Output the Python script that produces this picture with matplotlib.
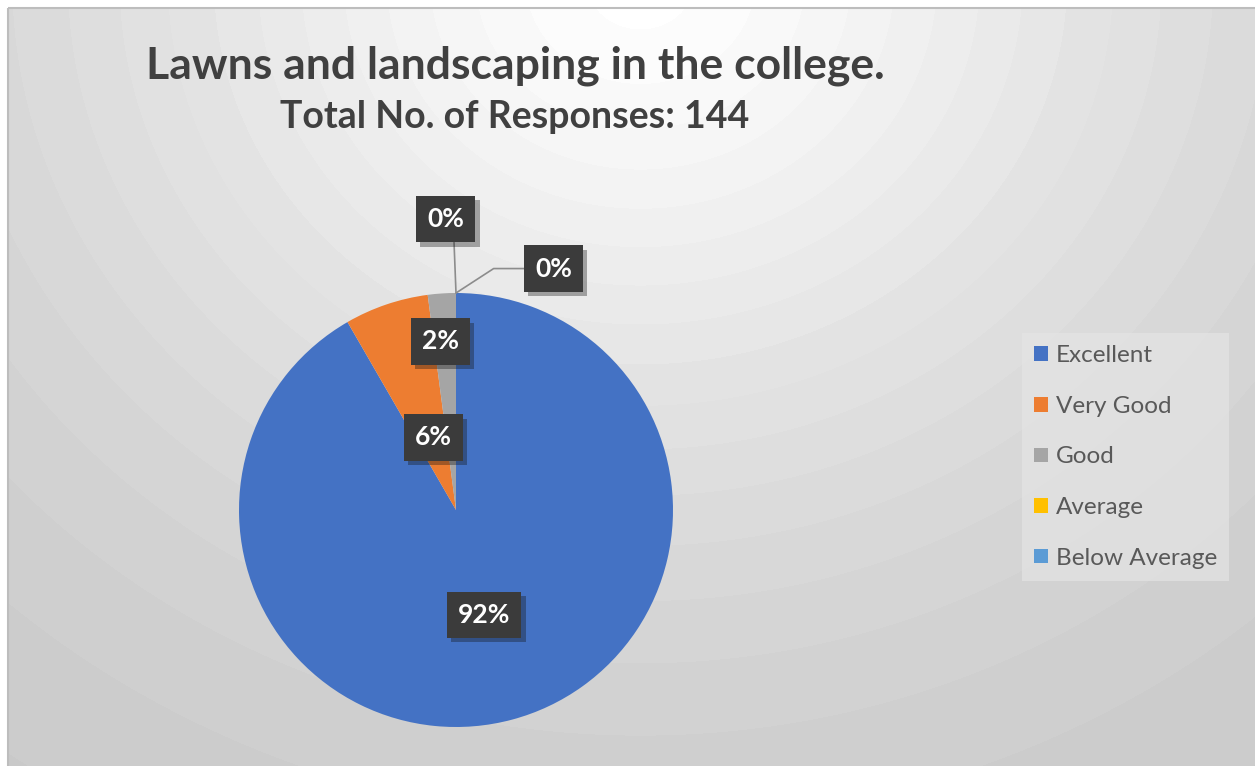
import numpy as np
import matplotlib.pyplot as plt
from matplotlib.patches import Rectangle
import matplotlib.patheffects as pe

# survey data (144 responses)
categories = ['Excellent', 'Very Good', 'Good', 'Average', 'Below Average']
counts = [132, 9, 3, 0, 0]
colors = ['#4472C4', '#ED7D31', '#A5A5A5', '#FFC000', '#5B9BD5']
title = 'Lawns and landscaping in the college.'
subtitle = 'Total No. of Responses: 144'

plt.rcParams['font.family'] = ['Lato', 'DejaVu Sans']

W, H = 1255, 766
fig = plt.figure(figsize=(W / 100, H / 100), dpi=100)

# background axes in pixel coords (y down)
bg = fig.add_axes([0, 0, 1, 1])
bg.set_xlim(0, W)
bg.set_ylim(H, 0)
bg.axis('off')

# radial grey gradient, banded like the office fill
yy, xx = np.mgrid[0:H, 0:W]
d = np.hypot(xx - 640, (yy + 20) / 0.9)
v = 0.77 + 0.23 * np.exp(-(d / 620) ** 1.5)
v = np.round(v * 85) / 85
bg.imshow(v[8:, 8:], cmap='gray', vmin=0, vmax=1, extent=(8, W, H, 8),
          aspect='auto', interpolation='bilinear')
bg.add_patch(Rectangle((8, 8), W, H, fill=False, edgecolor='#bdbdbd', lw=1.5))

bg.text(515, 66, title, ha='center', va='center', fontsize=32,
        fontweight='bold', color='#404040')
bg.text(515, 117, subtitle, ha='center', va='center', fontsize=27,
        fontweight='bold', color='#404040')

# pie
cx, cy, r = 456, 510, 217
ax = fig.add_axes([(cx - r) / W, (H - cy - r) / H, 2 * r / W, 2 * r / H])
wedges, _ = ax.pie(counts, colors=colors, startangle=90, counterclock=False,
                   radius=1, wedgeprops=dict(linewidth=0))
ax.set_xlim(-1, 1)
ax.set_ylim(-1, 1)
ax.axis('off')

total = sum(counts)
box = dict(boxstyle='square,pad=0.42', facecolor='#3b3b3b', edgecolor='none')
shadow = [pe.SimplePatchShadow(offset=(3, -3), alpha=0.35), pe.Normal()]

# label radius / angle tweaks (excel best fit)
lab_r = [0.50, 0.35, 0.78, 1.34, 1.20]
lab_da = [0, -1.5, 1.5, 2, -22]
for i, w in enumerate(wedges):
    pct = '{:.0f}%'.format(100 * counts[i] / total)
    mid = np.deg2rad((w.theta1 + w.theta2) / 2 + lab_da[i])
    tx, ty = lab_r[i] * np.cos(mid), lab_r[i] * np.sin(mid)
    if counts[i] > 0:
        t = ax.text(tx, ty, pct, ha='center', va='center', fontsize=19,
                    fontweight='bold', color='white', bbox=box)
    else:
        edge = np.deg2rad(w.theta1)
        xy = (np.cos(edge), np.sin(edge))
        if i == 3:
            conn = 'arc3'
            rel = (0.71, 0)
        else:
            conn = 'angle,angleA=0,angleB=33,rad=0'
            rel = (0, 0.5)
        t = ax.annotate(pct, xy=xy, xytext=(tx, ty), ha='center', va='center',
                        fontsize=19, fontweight='bold', color='white', bbox=box,
                        arrowprops=dict(arrowstyle='-', color='#8c8c8c', lw=1.2,
                                        connectionstyle=conn, relpos=rel,
                                        shrinkA=0, shrinkB=0))
    t.get_bbox_patch().set_path_effects(shadow)

leg = ax.legend(wedges, categories, loc='upper left',
                bbox_to_anchor=(1022 / W, 1 - 333 / H), bbox_transform=fig.transFigure,
                borderaxespad=0, fontsize=17.5, frameon=True, fancybox=False,
                handlelength=0.55, handleheight=0.55, handletextpad=0.35,
                labelspacing=1.22, borderpad=0.5, labelcolor='#595959')
leg.get_frame().set_facecolor('#e4e4e4')
leg.get_frame().set_alpha(0.7)
leg.get_frame().set_edgecolor('none')

fig.savefig('out.png', dpi=100)
